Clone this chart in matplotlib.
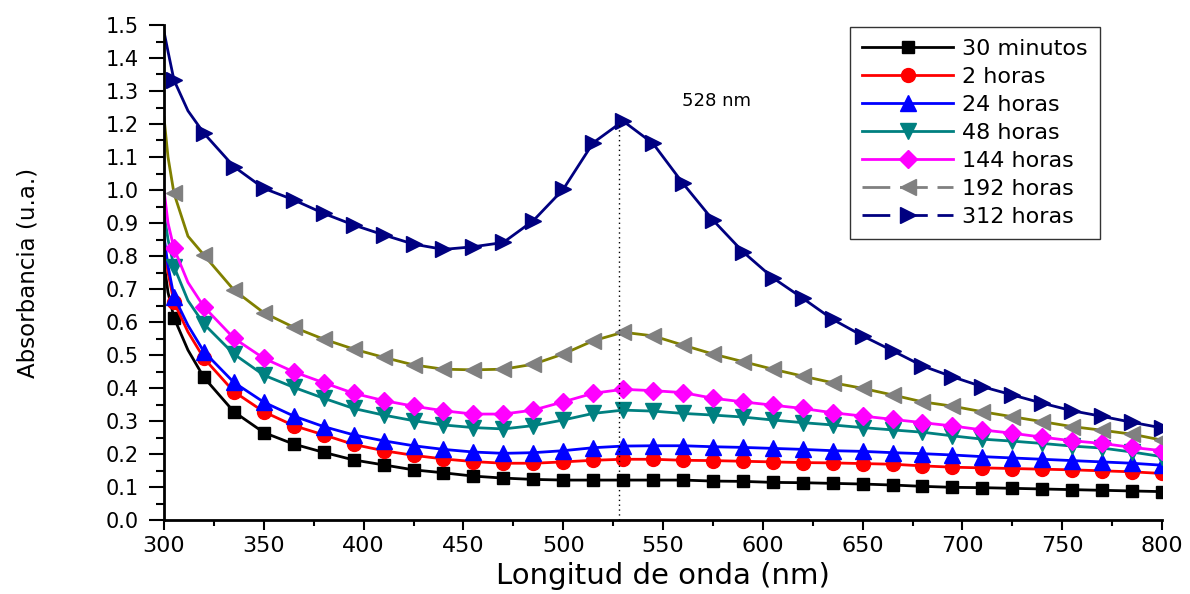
import matplotlib
matplotlib.use("Agg")
import matplotlib.pyplot as plt
from matplotlib.lines import Line2D
from matplotlib.ticker import MultipleLocator, FormatStrFormatter

plt.rcParams['font.family'] = ['DejaVu Sans']

# ---------------- data ----------------
wavelength = [300, 302, 305, 312, 320, 335, 350, 365, 380, 395, 410, 425, 440,
              455, 470, 485, 500, 515, 530, 545, 560, 575, 590, 605, 620, 635,
              650, 665, 680, 695, 710, 725, 740, 755, 770, 785, 800]

abs_30min = [0.78, 0.69, 0.613, 0.515, 0.432, 0.328, 0.265, 0.230, 0.205, 0.182,
             0.167, 0.152, 0.143, 0.133, 0.127, 0.123, 0.121, 0.121, 0.121, 0.121,
             0.121, 0.118, 0.117, 0.114, 0.113, 0.111, 0.109, 0.106, 0.102, 0.099,
             0.098, 0.096, 0.094, 0.092, 0.090, 0.088, 0.086]
abs_2h = [0.84, 0.75, 0.66, 0.57, 0.49, 0.389, 0.328, 0.286, 0.258, 0.229,
          0.210, 0.196, 0.185, 0.177, 0.172, 0.172, 0.176, 0.181, 0.184, 0.184,
          0.181, 0.180, 0.178, 0.176, 0.174, 0.173, 0.171, 0.169, 0.164, 0.160,
          0.158, 0.156, 0.154, 0.152, 0.149, 0.146, 0.141]
abs_24h = [0.86, 0.77, 0.677, 0.59, 0.51, 0.417, 0.357, 0.315, 0.283, 0.258,
           0.240, 0.225, 0.214, 0.206, 0.202, 0.204, 0.210, 0.219, 0.224, 0.225,
           0.225, 0.222, 0.220, 0.217, 0.214, 0.210, 0.208, 0.204, 0.201, 0.197,
           0.192, 0.188, 0.184, 0.180, 0.176, 0.172, 0.166]
abs_48h = [0.93, 0.85, 0.768, 0.665, 0.594, 0.503, 0.439, 0.402, 0.369, 0.338,
           0.318, 0.301, 0.288, 0.280, 0.276, 0.286, 0.303, 0.323, 0.333, 0.330,
           0.323, 0.318, 0.312, 0.303, 0.295, 0.288, 0.280, 0.273, 0.266, 0.255,
           0.245, 0.239, 0.232, 0.224, 0.218, 0.206, 0.192]
abs_144h = [1.00, 0.90, 0.823, 0.72, 0.646, 0.551, 0.490, 0.449, 0.416, 0.384,
            0.362, 0.345, 0.331, 0.321, 0.321, 0.333, 0.358, 0.384, 0.396, 0.392,
            0.386, 0.369, 0.358, 0.348, 0.338, 0.325, 0.315, 0.305, 0.295, 0.285,
            0.273, 0.263, 0.251, 0.240, 0.232, 0.220, 0.210]
abs_192h = [1.22, 1.10, 0.99, 0.86, 0.803, 0.697, 0.628, 0.584, 0.548, 0.518,
            0.493, 0.470, 0.457, 0.455, 0.457, 0.472, 0.503, 0.543, 0.569, 0.558,
            0.530, 0.503, 0.480, 0.457, 0.436, 0.416, 0.399, 0.379, 0.358, 0.345,
            0.328, 0.313, 0.298, 0.283, 0.272, 0.260, 0.242]
abs_312h = [1.48, 1.42, 1.333, 1.24, 1.172, 1.071, 1.005, 0.970, 0.929, 0.894,
            0.864, 0.836, 0.820, 0.828, 0.841, 0.907, 1.002, 1.143, 1.209, 1.141,
            1.020, 0.909, 0.813, 0.734, 0.672, 0.608, 0.558, 0.513, 0.467, 0.434,
            0.404, 0.379, 0.354, 0.331, 0.314, 0.296, 0.279]

labels = ["30 minutos", "2 horas", "24 horas", "48 horas", "144 horas",
          "192 horas", "312 horas"]
peak_wavelength = 528
peak_label = "528 nm"

# ---------------- styling ----------------
series = [abs_30min, abs_2h, abs_24h, abs_48h, abs_144h, abs_192h, abs_312h]
line_colors = ["#000000", "#FF0000", "#0000FF", "#008080", "#FF00FF", "#808000", "#000080"]
marker_colors = ["#000000", "#FF0000", "#0000FF", "#008080", "#FF00FF", "#808080", "#000080"]
legend_colors = ["#000000", "#FF0000", "#0000FF", "#008080", "#FF00FF", "#808080", "#000080"]
legend_styles = ["-", "-", "-", "-", "-", (0, (10, 3.5)), (0, (10, 3.5))]
markers = ["s", "o", "^", "v", "D", "<", ">"]
msizes = [9, 10, 11, 11, 9, 11, 11]

# marker only on the regular 15 nm grid
mark_idx = [i for i, w in enumerate(wavelength) if (w - 305) % 15 == 0]

fig = plt.figure(figsize=(11.9, 5.94), dpi=100)
ax = fig.add_axes([164 / 1190, 74 / 594, 998 / 1190, 495 / 594])

for y, lc, mc, mk, ms in zip(series, line_colors, marker_colors, markers, msizes):
    ax.plot(wavelength, y, color=lc, lw=2.0, marker=mk, markersize=ms,
            markerfacecolor=mc, markeredgecolor=mc, markevery=mark_idx)

# dotted marker line at the plasmon peak
peak_val = abs_312h[wavelength.index(530)]
ax.plot([peak_wavelength, peak_wavelength], [0, peak_val - 0.01], color="black",
        lw=1.0, linestyle=(0, (1, 2.5)))
ax.text(577, 1.27, peak_label, ha="center", va="center", fontsize=13)

ax.set_xlim(300, 800)
ax.set_ylim(0, 1.5)
ax.xaxis.set_major_locator(MultipleLocator(50))
ax.xaxis.set_minor_locator(MultipleLocator(25))
ax.yaxis.set_major_locator(MultipleLocator(0.1))
ax.yaxis.set_minor_locator(MultipleLocator(0.05))
ax.yaxis.set_major_formatter(FormatStrFormatter("%.1f"))

for s in ["top", "right"]:
    ax.spines[s].set_visible(False)
for s in ["left", "bottom"]:
    ax.spines[s].set_linewidth(2.0)

ax.tick_params(axis="x", which="major", direction="out", length=7.5, width=1.5,
               labelsize=16, pad=4)
ax.tick_params(axis="x", which="minor", direction="out", length=4, width=1.5)
ax.tick_params(axis="y", which="major", direction="out", length=11, width=1.5,
               labelsize=15, pad=7)
ax.tick_params(axis="y", which="minor", direction="out", length=6, width=1.5)

ax.set_xlabel("Longitud de onda (nm)", fontsize=21, labelpad=4)
ax.set_ylabel("Absorbancia (u.a.)", fontsize=16.5, labelpad=48)

handles = [Line2D([0], [0], color=c, lw=2.0, linestyle=ls, marker=mk, markersize=ms,
                  markerfacecolor=c, markeredgecolor=c)
           for c, ls, mk, ms in zip(legend_colors, legend_styles, markers, msizes)]
leg = ax.legend(handles, labels, loc="upper right", bbox_to_anchor=(0.938, 0.996),
                borderaxespad=0, fontsize=16, handlelength=4.1, handletextpad=0.4,
                labelspacing=0.36, frameon=True, fancybox=False, borderpad=0.55,
                numpoints=1)
leg.get_frame().set_edgecolor("black")
leg.get_frame().set_linewidth(1.0)

fig.savefig("out.png", dpi=100)
